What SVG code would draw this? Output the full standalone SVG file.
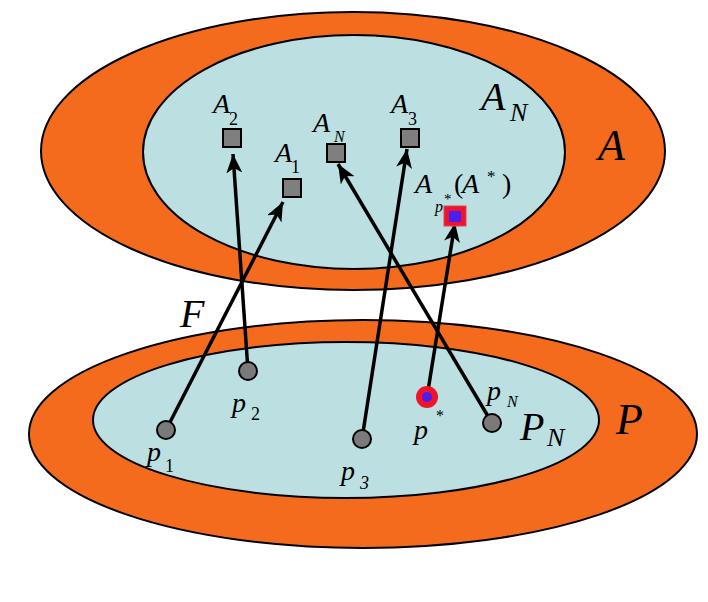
<svg xmlns="http://www.w3.org/2000/svg" width="708" height="602" viewBox="0 0 708 602">
<style>
.outer{fill:#F56B1E;stroke:#000;stroke-width:2}
.inner{fill:#BCDFE1;stroke:#000;stroke-width:2}
.sq{fill:#7F7F7F;stroke:#000;stroke-width:2}
.pt{fill:#7A7A7A;stroke:#000;stroke-width:2}
.ln{stroke:#000;stroke-width:3.5;fill:none}
text{font-family:'Liberation Serif','Times New Roman',serif;fill:#000}
.t{font-style:italic}
</style>
<defs>
<marker id="ah" markerUnits="userSpaceOnUse" markerWidth="22" markerHeight="18" refX="19" refY="8" orient="auto">
<path d="M0,0 L19,8 L0,16 L5,8 z" fill="#000"/>
</marker>
</defs>
<g id="setA">
<ellipse class="outer" cx="353" cy="151" rx="312" ry="139"/>
<ellipse class="inner" cx="354" cy="152" rx="211" ry="117"/>
<text class="t" x="598" y="160" font-size="44">A</text>
<text class="t" x="481" y="110" font-size="40">A</text>
<text class="t" x="510" y="121" font-size="26">N</text>
</g>
<g id="setP">
<ellipse class="outer" cx="363" cy="434" rx="334" ry="114"/>
<ellipse class="inner" cx="346" cy="420" rx="253" ry="78"/>
<text class="t" x="616" y="434" font-size="44">P</text>
<text class="t" x="520" y="440" font-size="40">P</text>
<text class="t" x="547" y="446" font-size="26">N</text>
</g>
<g id="connectors">
<line class="ln" x1="166" y1="430" x2="283" y2="202" marker-end="url(#ah)"/>
<line class="ln" x1="248" y1="371" x2="233" y2="154" marker-end="url(#ah)"/>
<line class="ln" x1="362" y1="439" x2="407" y2="149" marker-end="url(#ah)"/>
<line class="ln" x1="492" y1="423" x2="338" y2="164" marker-end="url(#ah)"/>
<line class="ln" x1="427" y1="397" x2="455" y2="223" marker-end="url(#ah)"/>
<text class="t" x="180" y="327" font-size="40">F</text>
</g>
<g id="A2">
<rect class="sq" x="223" y="129" width="18" height="18"/>
<text class="t" x="213" y="113" font-size="28">A</text>
<text x="229" y="125" font-size="18">2</text>
</g>
<g id="A1">
<rect class="sq" x="283" y="179" width="18" height="18"/>
<text class="t" x="275" y="162" font-size="28">A</text>
<text x="291" y="173" font-size="18">1</text>
</g>
<g id="AN">
<rect class="sq" x="327" y="144" width="18" height="18"/>
<text class="t" x="313" y="132" font-size="28">A</text>
<text class="t" x="334" y="142" font-size="16">N</text>
</g>
<g id="A3">
<rect class="sq" x="401" y="129" width="18" height="18"/>
<text class="t" x="391" y="113" font-size="28">A</text>
<text x="408" y="125" font-size="18">3</text>
</g>
<g id="Astar">
<rect x="444" y="206" width="22" height="20" fill="#F0142A" stroke="#E04060" stroke-width="1"/>
<rect x="449" y="211" width="12" height="11" fill="#4B1EF0"/>
<text class="t" x="415" y="193" font-size="28">A</text>
<text class="t" x="435" y="212" font-size="16">p</text>
<text x="444" y="204" font-size="15">*</text>
<text x="454" y="193" font-size="28">(</text>
<text class="t" x="462" y="193" font-size="28">A</text>
<text x="487" y="182" font-size="17">*</text>
<text x="502" y="193" font-size="28">)</text>
</g>
<g id="p1">
<circle class="pt" cx="166" cy="430" r="9"/>
<text class="t" x="147" y="461" font-size="28">p</text>
<text x="165" y="472" font-size="18">1</text>
</g>
<g id="p2">
<circle class="pt" cx="248" cy="371" r="9"/>
<text class="t" x="232" y="412" font-size="28">p</text>
<text x="251" y="420" font-size="18">2</text>
</g>
<g id="p3">
<circle class="pt" cx="362" cy="439" r="9"/>
<text class="t" x="341" y="480" font-size="28">p</text>
<text class="t" x="360" y="489" font-size="18">3</text>
</g>
<g id="pstar">
<circle cx="427" cy="397" r="11" fill="#F0142A"/>
<circle cx="427" cy="397" r="5" fill="#4B1EF0"/>
<text class="t" x="414" y="439" font-size="28">p</text>
<text x="436" y="421" font-size="16">*</text>
</g>
<g id="pN">
<circle class="pt" cx="492" cy="423" r="9"/>
<text class="t" x="487" y="400" font-size="28">p</text>
<text class="t" x="507" y="407" font-size="16">N</text>
</g>
</svg>
